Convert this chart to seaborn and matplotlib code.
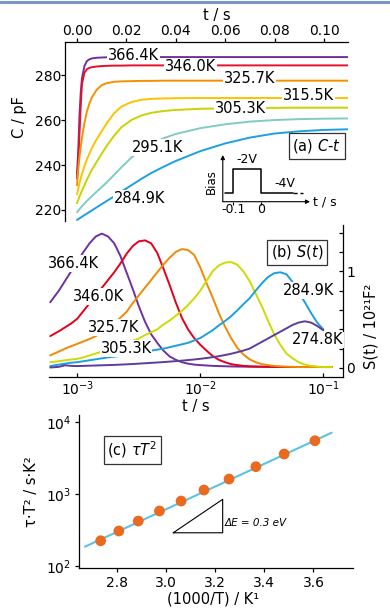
import matplotlib
matplotlib.use('Agg')
import matplotlib.pyplot as plt
import matplotlib.ticker as mticker
from matplotlib.lines import Line2D
import pandas as pd
import seaborn as sns

# ---- (a) capacitance transients C(t) ----
T_A = [0, 0.0005, 0.001, 0.0015, 0.002, 0.003, 0.004, 0.005, 0.006, 0.008,
       0.010, 0.012, 0.015, 0.018, 0.022, 0.026, 0.030, 0.035, 0.040, 0.050,
       0.060, 0.070, 0.080, 0.090, 0.100, 0.110]
C_366 = [236, 246, 262, 272, 278.5, 284, 286.2, 287, 287.4, 287.7, 287.8, 287.9,
         287.9, 288, 288, 288, 288, 288, 288, 288, 288, 288, 288, 288, 288, 288]
C_346 = [234, 241, 254, 266, 276, 281, 282.6, 283.2, 283.5, 283.8, 284, 284.1,
         284.2, 284.2, 284.3, 284.3, 284.3, 284.3, 284.3, 284.3, 284.3, 284.3,
         284.3, 284.3, 284.3, 284.3]
C_326 = [231, 238, 243.5, 248, 252, 258.5, 263.8, 267.3, 270, 273.5, 275.5, 276.4,
         277, 277.2, 277.3, 277.4, 277.4, 277.5, 277.5, 277.5, 277.5, 277.5,
         277.5, 277.5, 277.5, 277.5]
C_316 = [227, 229.5, 232, 234, 236, 239.5, 242.5, 245, 247.5, 251.5, 255, 258.5,
         263, 266, 268, 269, 269.4, 269.6, 269.7, 269.8, 269.8, 269.8, 269.8,
         269.8, 269.8, 269.8]
C_305 = [223, 224.5, 226, 227.3, 228.6, 231, 233.5, 235.7, 237.8, 241.5, 245,
         248.5, 253, 256.8, 260, 262, 263.2, 264, 264.5, 265, 265.2, 265.3, 265.4,
         265.5, 265.5, 265.5]
C_295 = [219, 219.7, 220.4, 221, 221.6, 222.8, 224, 225.1, 226.1, 228.2, 230.2,
         232.2, 235.6, 239, 243.3, 246.5, 249.2, 251.9, 253.8, 256.4, 258.1, 259.3,
         260, 260.4, 260.6, 260.7]
C_285 = [215.6, 215.9, 216.3, 216.6, 217, 217.7, 218.4, 219.1, 219.8, 221.2, 222.6,
         224, 226, 228.2, 231, 233.8, 236.4, 239.2, 241.8, 246.2, 249.6, 252.2, 254,
         255, 255.6, 255.9]
A_TEMPS = ['366.4K', '346.0K', '325.7K', '315.5K', '305.3K', '295.1K', '284.9K']
A_COLORS = ['#7030a0', '#e8112d', '#f39200', '#fbc300', '#c8d400', '#80cbc6', '#1ba1e2']
A_LABEL_T = [0.0229, 0.0458, 0.0699, 0.0937, 0.0660, 0.0327, 0.0255]
A_LABEL_C = [288.8, 283.7, 278.5, 271.1, 265.2, 247.8, 225.2]

# ---- (b) DLTS-like signal S(t) on log time ----
LOG_T_B = [-3.22, -3.15, -3.10, -3.05, -3.00, -2.95, -2.90, -2.85, -2.80, -2.75,
           -2.70, -2.65, -2.60, -2.55, -2.50, -2.45, -2.40, -2.35, -2.30, -2.25,
           -2.20, -2.15, -2.10, -2.05, -2.00, -1.95, -1.90, -1.85, -1.80, -1.75,
           -1.70, -1.65, -1.60, -1.55, -1.50, -1.45, -1.40, -1.35, -1.30, -1.25,
           -1.20, -1.15, -1.10, -1.05, -1.00, -0.93]
S_366 = [0.68, 0.80, 0.90, 1.00, 1.10, 1.20, 1.29, 1.36, 1.39, 1.36, 1.29, 1.16,
         0.99, 0.82, 0.64, 0.48, 0.35, 0.26, 0.18, 0.12, 0.085, 0.06, 0.045, 0.035,
         0.03, 0.026, 0.022, 0.02, 0.018, 0.016, 0.015, 0.014, 0.013, 0.012, 0.012,
         0.011, 0.011, 0.01, 0.01, 0.01, 0.01, 0.01, 0.01, 0.01, 0.01, 0.01]
S_346 = [0.33, 0.38, 0.42, 0.46, 0.51, 0.59, 0.67, 0.75, 0.83, 0.91, 0.99, 1.08,
         1.18, 1.26, 1.31, 1.32, 1.29, 1.19, 1.03, 0.86, 0.68, 0.52, 0.40, 0.31,
         0.24, 0.18, 0.125, 0.085, 0.06, 0.04, 0.03, 0.022, 0.018, 0.016, 0.014,
         0.013, 0.012, 0.011, 0.011, 0.01, 0.01, 0.01, 0.01, 0.01, 0.01, 0.01]
S_326 = [0.13, 0.17, 0.20, 0.225, 0.25, 0.275, 0.30, 0.33, 0.37, 0.41, 0.46, 0.52,
         0.58, 0.67, 0.75, 0.83, 0.91, 0.99, 1.07, 1.14, 1.20, 1.23, 1.22, 1.17,
         1.04, 0.88, 0.73, 0.57, 0.43, 0.31, 0.21, 0.14, 0.09, 0.06, 0.04, 0.03,
         0.022, 0.017, 0.014, 0.012, 0.01, 0.01, 0.01, 0.01, 0.01, 0.01]
S_305 = [0.06, 0.07, 0.08, 0.088, 0.095, 0.11, 0.13, 0.15, 0.17, 0.19, 0.21, 0.23,
         0.25, 0.28, 0.305, 0.34, 0.37, 0.40, 0.45, 0.49, 0.54, 0.59, 0.65, 0.72,
         0.80, 0.90, 1.00, 1.06, 1.09, 1.095, 1.07, 1.00, 0.90, 0.77, 0.64, 0.49,
         0.35, 0.24, 0.15, 0.10, 0.06, 0.035, 0.022, 0.015, 0.01, 0.008]
S_285 = [0.02, 0.035, 0.045, 0.055, 0.06, 0.07, 0.08, 0.09, 0.10, 0.11, 0.117,
         0.125, 0.135, 0.145, 0.155, 0.165, 0.18, 0.19, 0.20, 0.215, 0.23, 0.245,
         0.26, 0.285, 0.31, 0.35, 0.39, 0.44, 0.485, 0.535, 0.595, 0.66, 0.72, 0.80,
         0.875, 0.94, 0.98, 0.99, 0.97, 0.89, 0.78, 0.68, 0.57, 0.47, 0.40, None]
S_275 = [0.005, 0.012, 0.028, 0.022, 0.02, 0.022, 0.024, 0.026, 0.028, 0.03, 0.032,
         0.035, 0.038, 0.041, 0.045, 0.049, 0.053, 0.057, 0.061, 0.066, 0.071,
         0.076, 0.082, 0.088, 0.095, 0.103, 0.112, 0.122, 0.134, 0.147, 0.163, 0.18,
         0.20, 0.235, 0.27, 0.305, 0.34, 0.375, 0.41, 0.445, 0.47, 0.483, 0.47,
         0.435, 0.39, None]
B_TEMPS = ['366.4K', '346.0K', '325.7K', '305.3K', '284.9K', '274.8K']
B_COLORS = ['#7030a0', '#e4001b', '#f18a00', '#ccdc00', '#1ba0de', '#5a3d9d']
B_LABEL_LOGT = [-3.027, -2.829, -2.707, -2.604, -1.116, -1.047]
B_LABEL_S = [1.083, 0.737, 0.417, 0.204, 0.80, 0.29]

# ---- (c) Arrhenius plot ----
INV_T = [2.735, 2.809, 2.888, 2.974, 3.062, 3.155, 3.257, 3.366, 3.481, 3.606]
TAU_T2 = [223, 305, 420, 580, 798, 1137, 1618, 2405, 3615, 5530]
FIT_X = [2.671, 3.674]
FIT_Y = [184, 7160]
TRI_X = [3.030, 3.231, 3.231, 3.030]
TRI_Y = [288, 288, 843, 288]

# ---- bias pulse inset ----
BIAS_T = [-0.130, -0.1, -0.1, 0.0, 0.0, 0.117]
BIAS_V = [-4, -4, -2, -2, -4, -4]
BIAS_TAIL_T = [0.117, 0.152]
BIAS_TAIL_V = [-4, -4]
BIAS_TICKS = [-0.1, 0.0]
BIAS_TICK_LABELS = ['-0.1', '0']

W, H = 390, 610


def px_rect(left, top, right, bottom):
    return [left / W, 1 - bottom / H, (right - left) / W, (bottom - top) / H]


def long_frame(x, series, names):
    rows = []
    for name, ys in zip(names, series):
        for xv, yv in zip(x, ys):
            if yv is not None:
                rows.append((xv, yv, name))
    return pd.DataFrame(rows, columns=['x', 'y', 'T'])


def curve_label(ax, x, y, text):
    ax.text(x, y, text, ha='center', va='center', fontsize=10.5, zorder=5,
            bbox=dict(fc='white', ec='none', pad=0.6))


def box_label(ax, x, y, text):
    ax.text(x, y, text, ha='center', va='center', fontsize=10.5, zorder=6,
            bbox=dict(boxstyle='square,pad=0.25', fc='white', ec='#333333', lw=0.9))


def main():
    sns.set_style('ticks')
    plt.rcParams.update({
        'font.family': ['DejaVu Sans'],
        'axes.edgecolor': 'black',
        'axes.linewidth': 0.9,
        'text.color': 'black',
        'axes.labelcolor': 'black',
        'xtick.color': 'black',
        'ytick.color': 'black',
        'axes.labelsize': 10.5,
        'xtick.labelsize': 10,
        'ytick.labelsize': 10,
    })

    fig = plt.figure(figsize=(3.9, 6.1), dpi=100)
    fig.add_artist(Line2D([0, 1], [1 - 1.5 / H, 1 - 1.5 / H], transform=fig.transFigure,
                          color='#7b96c8', lw=2.2))

    # (a)
    ax_a = fig.add_axes(px_rect(65, 42, 348, 221))
    df_a = long_frame(T_A, [C_366, C_346, C_326, C_316, C_305, C_295, C_285], A_TEMPS)
    sns.lineplot(data=df_a, x='x', y='y', hue='T', palette=dict(zip(A_TEMPS, A_COLORS)),
                 estimator=None, sort=False, legend=False, lw=1.4, ax=ax_a)
    ax_a.set(xlim=(-0.00486, 0.1097), ylim=(215.1, 294.7))
    ax_a.xaxis.tick_top()
    ax_a.xaxis.set_label_position('top')
    ax_a.xaxis.set_major_locator(mticker.FixedLocator([0, 0.02, 0.04, 0.06, 0.08, 0.10]))
    ax_a.xaxis.set_major_formatter(mticker.FormatStrFormatter('%.2f'))
    ax_a.yaxis.set_major_locator(mticker.FixedLocator([220, 240, 260, 280]))
    ax_a.tick_params(direction='out', length=2.6, width=0.9, pad=0.3)
    for s in ('right', 'bottom'):
        ax_a.spines[s].set_visible(False)
    ax_a.set_xlabel('t / s')
    ax_a.set_ylabel('C / pF')
    ax_a.xaxis.set_label_coords(0.536, 1.125)
    ax_a.yaxis.set_label_coords(-0.135, 0.58)
    for x, y, lab in zip(A_LABEL_T, A_LABEL_C, A_TEMPS):
        curve_label(ax_a, x, y, lab)
    box_label(ax_a, 0.0970, 248.5, '(a) $C$-$t$')

    # bias pulse inset
    ax_in = fig.add_axes(px_rect(205, 150, 345, 215))
    ax_in.axis('off')
    ax_in.set(xlim=(-0.2022, 0.3032), ylim=(-5.808, -0.392))
    sns.lineplot(x=BIAS_T, y=BIAS_V, sort=False, estimator=None, color='black', lw=1.1, ax=ax_in)
    sns.lineplot(x=BIAS_TAIL_T, y=BIAS_TAIL_V, sort=False, estimator=None, color='black',
                 lw=1.0, ls=(0, (3, 2)), ax=ax_in)
    arrow = dict(arrowstyle='-|>', lw=0.8, color='black', mutation_scale=6, shrinkA=0, shrinkB=0)
    ax_in.annotate('', xy=(-0.138, -0.81), xytext=(-0.138, -4.7), arrowprops=arrow)
    ax_in.annotate('', xy=(0.177, -4.7), xytext=(-0.138, -4.7), arrowprops=arrow)
    ax_in.vlines(BIAS_TICKS, -4.95, -4.7, color='black', lw=0.8)
    for x, lab in zip(BIAS_TICKS, BIAS_TICK_LABELS):
        ax_in.text(x, -5.39, lab, ha='center', va='center', fontsize=9)
    ax_in.text(-0.178, -3.03, 'Bias', rotation=90, ha='center', va='center', fontsize=8.5)
    ax_in.text(-0.052, -1.22, '-2V', ha='center', va='center', fontsize=9)
    ax_in.text(0.087, -3.17, '-4V', ha='center', va='center', fontsize=9)
    ax_in.text(0.188, -4.7, 't / s', ha='left', va='center', fontsize=9)

    # (b)
    ax_b = fig.add_axes(px_rect(49.3, 225, 343.3, 376.7))
    t_b = [10 ** v for v in LOG_T_B]
    df_b = long_frame(t_b, [S_366, S_346, S_326, S_305, S_285, S_275], B_TEMPS)
    sns.lineplot(data=df_b, x='x', y='y', hue='T', palette=dict(zip(B_TEMPS, B_COLORS)),
                 estimator=None, sort=False, legend=False, lw=1.4, ax=ax_b)
    ax_b.set_xscale('log')
    ax_b.set(xlim=(5.92e-4, 0.1454), ylim=(-0.09, 1.479))
    ax_b.xaxis.set_major_locator(mticker.FixedLocator([1e-3, 1e-2, 1e-1]))
    ax_b.xaxis.set_major_formatter(mticker.LogFormatterSciNotation())
    ax_b.xaxis.set_minor_locator(mticker.NullLocator())
    ax_b.yaxis.tick_right()
    ax_b.yaxis.set_label_position('right')
    ax_b.yaxis.set_major_locator(mticker.FixedLocator([0, 1]))
    ax_b.yaxis.set_major_formatter(mticker.FixedFormatter(['0', '1']))
    ax_b.yaxis.set_minor_locator(mticker.FixedLocator([0.2, 0.4, 0.6, 0.8, 1.2, 1.4]))
    ax_b.tick_params(which='both', direction='in', length=3, width=0.9, pad=2)
    for s in ('left', 'top'):
        ax_b.spines[s].set_visible(False)
    ax_b.set_xlabel('t / s', labelpad=1)
    ax_b.set_ylabel('S(t) / 10²¹F²')
    ax_b.yaxis.set_label_coords(1.07, 0.334)
    for x, y, lab in zip(B_LABEL_LOGT, B_LABEL_S, B_TEMPS):
        curve_label(ax_b, 10 ** x, y, lab)
    box_label(ax_b, 10 ** -1.216, 1.197, '(b) $S(t)$')

    # (c)
    ax_c = fig.add_axes(px_rect(79, 415, 353.3, 568.3))
    sns.lineplot(x=FIT_X, y=FIT_Y, estimator=None, sort=False, color='#5bc3e5', lw=1.5, ax=ax_c)
    sns.scatterplot(x=INV_T, y=TAU_T2, s=60, color='#ea6a1f', edgecolor='none', zorder=3, ax=ax_c)
    ax_c.plot(TRI_X, TRI_Y, color='black', lw=0.8)
    ax_c.set_yscale('log')
    ax_c.set(xlim=(2.647, 3.762), ylim=(10 ** 1.964, 10 ** 4.102))
    ax_c.xaxis.set_major_locator(mticker.FixedLocator([2.8, 3.0, 3.2, 3.4, 3.6]))
    ax_c.xaxis.set_major_formatter(mticker.FormatStrFormatter('%.1f'))
    ax_c.yaxis.set_major_locator(mticker.FixedLocator([1e2, 1e3, 1e4]))
    ax_c.yaxis.set_major_formatter(mticker.LogFormatterSciNotation())
    ax_c.yaxis.set_minor_locator(mticker.NullLocator())
    ax_c.tick_params(direction='out', length=2.8, width=0.9, pad=2.8)
    for s in ('right', 'top'):
        ax_c.spines[s].set_visible(False)
    ax_c.set_xlabel('(1000/T) / K¹')
    ax_c.set_ylabel('τ·T² / s·K²')
    ax_c.xaxis.set_label_coords(0.4885, -0.15)
    ax_c.yaxis.set_label_coords(-0.146, 0.5)
    ax_c.text(3.24, 390, 'ΔE = 0.3 eV', style='italic', ha='left', va='center', fontsize=7.5)
    box_label(ax_c, 2.864, 4130, r'(c) $\tau T^2$')

    fig.savefig('out.png', dpi=100)


if __name__ == '__main__':
    main()
